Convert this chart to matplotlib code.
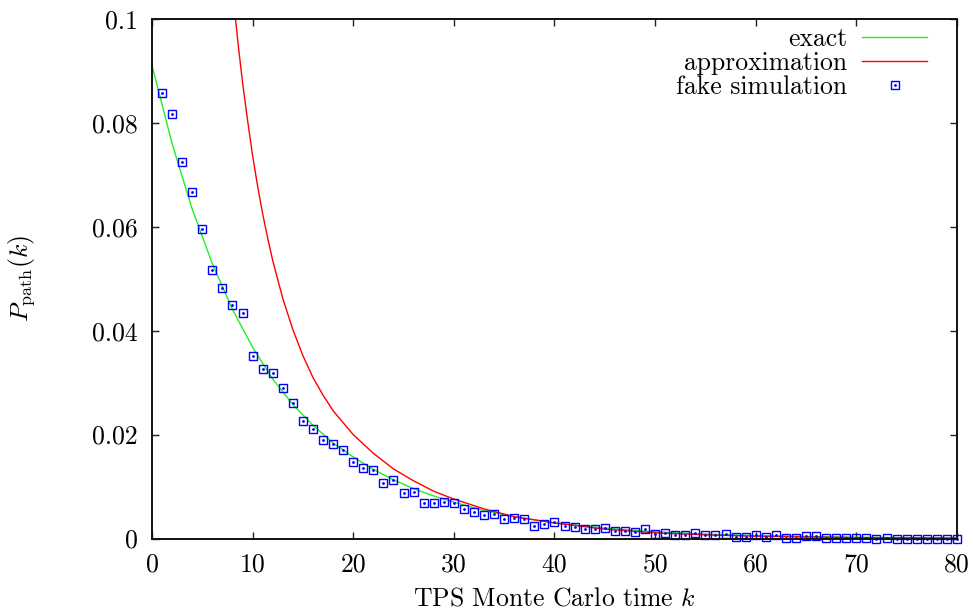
import numpy as np
import matplotlib
matplotlib.use("Agg")
import matplotlib.pyplot as plt
from matplotlib.lines import Line2D

plt.rcParams['font.family'] = 'cmr10'
plt.rcParams['mathtext.fontset'] = 'cm'
plt.rcParams['axes.unicode_minus'] = False

# exact curve
exact_k = [0, 2, 4, 6, 8, 10, 12, 14, 16, 18, 20, 22, 24, 26, 28, 30, 33, 36,
           40, 45, 50, 55, 60, 70, 80]
exact_p = [0.0911, 0.0760, 0.0634, 0.0529, 0.0441, 0.0368, 0.0307, 0.0258,
           0.0218, 0.0184, 0.0157, 0.0133, 0.0113, 0.0096, 0.0082, 0.0070,
           0.0054, 0.0042, 0.0030, 0.0020, 0.0013, 0.00085, 0.00056,
           0.00024, 0.0001]

# approximation curve
approx_k = [8.3, 8.6, 9, 9.5, 10, 10.5, 11, 11.5, 12, 13, 14, 15, 16, 17, 18,
            20, 22, 24, 26, 28, 30, 33, 36, 40, 45, 50, 55, 60, 70, 80]
approx_p = [0.1000, 0.0945, 0.0878, 0.0805, 0.0737, 0.0678, 0.0625, 0.0578,
            0.0535, 0.0462, 0.0402, 0.0352, 0.0310, 0.0276, 0.0246, 0.0200,
            0.0164, 0.0134, 0.0111, 0.0091, 0.0076, 0.0057, 0.0042, 0.0030,
            0.0018, 0.0011, 0.0007, 0.00045, 0.00018, 0.00007]

# fake simulation points k = 1..80
sim_k = list(range(1, 81))
sim_p = [0.0857, 0.0818, 0.0724, 0.0667, 0.0596, 0.0517, 0.0482, 0.0450,
         0.0435, 0.0351, 0.0326, 0.0318, 0.0290, 0.0260, 0.0226, 0.0211,
         0.0189, 0.0182, 0.0170, 0.0148, 0.0135, 0.0131, 0.0107, 0.0112,
         0.0088, 0.0089, 0.0069, 0.0068, 0.0070, 0.0068, 0.0057, 0.0051,
         0.0045, 0.0047, 0.0037, 0.0040, 0.0037, 0.0025, 0.0027, 0.0032,
         0.0024, 0.0023, 0.0019, 0.0019, 0.0020, 0.0015, 0.0014, 0.0012,
         0.0018, 0.0009, 0.0011, 0.0007, 0.0007, 0.0010, 0.0006, 0.0006,
         0.0008, 0.0003, 0.0003, 0.0006, 0.0003, 0.0006, 0.00015, 0.00005,
         0.0004, 0.0004, 0.00005, 0.0001, 0.00015, 0.0001, 0.00015, 0.0,
         0.0001, 0.0, 0.0, 0.0, 0.0, 0.0, 0.0, 0.0]

x_ticks = [0, 10, 20, 30, 40, 50, 60, 70, 80]
y_ticks = [0, 0.02, 0.04, 0.06, 0.08, 0.1]
y_tick_labels = ["0", "0.02", "0.04", "0.06", "0.08", "0.1"]

FS = 18.5


def main():
    fig = plt.figure(figsize=(9.73, 6.13), dpi=100)
    ax = fig.add_axes([0.1562, 0.1215, 0.8273, 0.8475])

    ax.plot(exact_k, exact_p, color="#22ee22", lw=1.0, label="exact")
    ax.plot(approx_k, approx_p, color="#ff0000", lw=1.0, label="approximation")
    ax.plot(sim_k, sim_p, linestyle="none", marker="s", markersize=6.2,
            markerfacecolor="none", markeredgecolor="#0000ff",
            markeredgewidth=1.0, clip_on=False)
    ax.plot(sim_k, sim_p, linestyle="none", marker="o", markersize=1.0,
            color="#0000ff", clip_on=False)

    ax.set_xlim(0, 80)
    ax.set_ylim(0, 0.1)
    ax.set_xticks(x_ticks)
    ax.set_xticklabels([str(t) for t in x_ticks])
    ax.set_yticks(y_ticks)
    ax.set_yticklabels(y_tick_labels)
    ax.tick_params(direction="in", length=5, width=1.0, top=True, right=True,
                   labelsize=FS, pad=10, colors="#222222", labelcolor="black")
    for s in ax.spines.values():
        s.set_linewidth(1.4)
        s.set_color("#111111")

    ax.set_xlabel("TPS Monte Carlo time $k$", fontsize=FS)
    ax.set_ylabel(r"$P_{\rm path}(k)$", fontsize=FS)
    ax.xaxis.set_label_coords(0.5, -0.093)
    ax.yaxis.set_label_coords(-0.143, 0.5)

    handles = [
        Line2D([], [], color="#22ee22", lw=1.0),
        Line2D([], [], color="#ff0000", lw=1.0),
        (Line2D([], [], linestyle="none", marker="s", markersize=6.2,
                markerfacecolor="none", markeredgecolor="#0000ff", markeredgewidth=1.0),
         Line2D([], [], linestyle="none", marker="o", markersize=1.0, color="#0000ff")),
    ]
    ax.legend(handles, ["exact", "approximation", "fake simulation"],
              loc="upper right", bbox_to_anchor=(0.963, 0.984), frameon=False,
              markerfirst=False, fontsize=FS, handlelength=2.53,
              handletextpad=0.58, labelspacing=0.0, borderpad=0.0,
              borderaxespad=0.0)

    fig.savefig("out.png", dpi=100)


if __name__ == "__main__":
    main()
